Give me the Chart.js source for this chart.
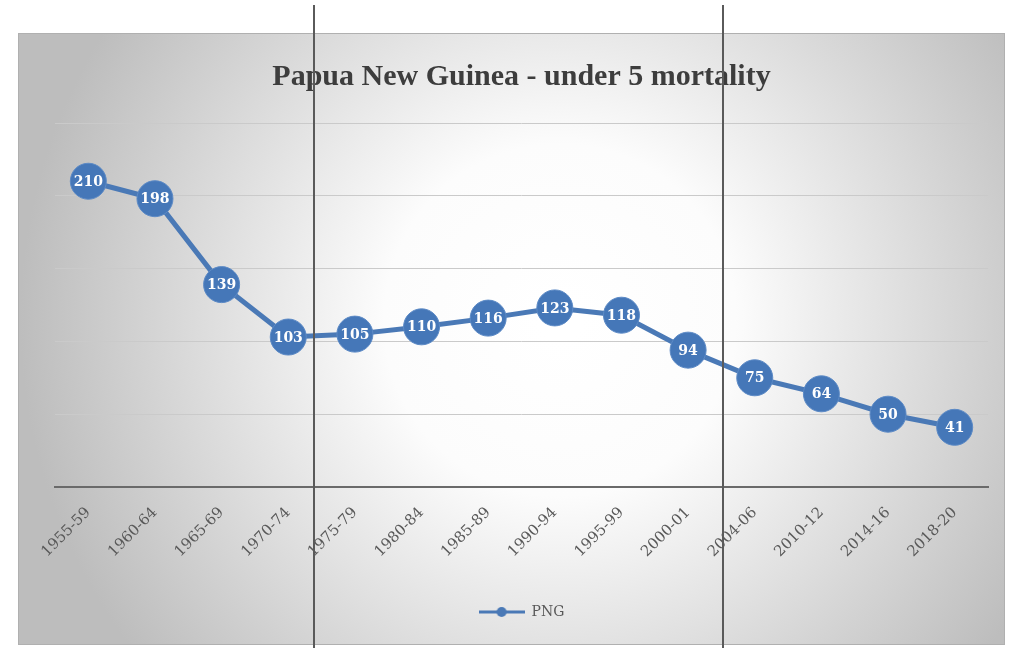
<!DOCTYPE html>
<html>
<head>
<meta charset="utf-8">
<script src="https://cdn.jsdelivr.net/npm/chart.js@4.4.1/dist/chart.umd.min.js"></script>
<style>
html, body { margin: 0; padding: 0; background: #fff; }
#wrap { position: relative; width: 1011px; height: 648px; overflow: hidden; }
#myChart { position: absolute; left: 0; top: 0; }
.vline { position: absolute; top: 5px; height: 643px; width: 2px; background: #5a5a5a; }
</style>
</head>
<body>
<div id="wrap">
  <canvas id="myChart" width="1011" height="648"></canvas>
  <div class="vline" style="left:313px"></div>
  <div class="vline" style="left:722px"></div>
</div>
<script>
var periods = ['1955-59', '1960-64', '1965-69', '1970-74', '1975-79', '1980-84', '1985-89',
               '1990-94', '1995-99', '2000-01', '2004-06', '2010-12', '2014-16', '2018-20'];
var mortality = [210, 198, 139, 103, 105, 110, 116, 123, 118, 94, 75, 64, 50, 41];
var seriesName = 'PNG';
var chartTitle = 'Papua New Guinea - under 5 mortality';
var yMin = 0, yMax = 250, yStep = 50;

var blue = '#4a79b6';

// grey radial fill behind the whole chart box
var chartBackground = {
    id: 'chartBackground',
    beforeDraw: function(chart) {
        var ctx = chart.ctx;
        ctx.save();
        var g = ctx.createRadialGradient(560, 320, 20, 560, 320, 540);
        g.addColorStop(0, '#ffffff');
        g.addColorStop(0.3, '#fcfcfc');
        g.addColorStop(1, '#bdbdbd');
        ctx.fillStyle = g;
        ctx.fillRect(18, 33, 987, 612);
        ctx.strokeStyle = '#b0b0b0';
        ctx.lineWidth = 1;
        ctx.strokeRect(18.5, 33.5, 986, 611);
        ctx.restore();
    }
};

// value written inside every marker
var pointLabels = {
    id: 'pointLabels',
    afterDatasetsDraw: function(chart) {
        var ctx = chart.ctx;
        var meta = chart.getDatasetMeta(0);
        var values = chart.data.datasets[0].data;
        ctx.save();
        ctx.font = 'bold 14px "DejaVu Serif"';
        ctx.fillStyle = '#ffffff';
        ctx.textAlign = 'center';
        ctx.textBaseline = 'middle';
        meta.data.forEach(function(pt, i) {
            ctx.fillText(values[i], pt.x, pt.y + 1);
        });
        ctx.restore();
    }
};

// legend marker: line with a dot
var legendMark = document.createElement('canvas');
legendMark.width = 46;
legendMark.height = 12;
var lc = legendMark.getContext('2d');
lc.strokeStyle = blue;
lc.lineWidth = 3;
lc.beginPath(); lc.moveTo(0, 6); lc.lineTo(46, 6); lc.stroke();
lc.fillStyle = blue;
lc.beginPath(); lc.arc(23, 6, 5, 0, Math.PI * 2); lc.fill();

var ctx = document.getElementById('myChart').getContext('2d');
var chart = new Chart(ctx, {
    type: 'line',
    data: {
        labels: periods,
        datasets: [{
            label: seriesName,
            data: mortality,
            borderColor: blue,
            backgroundColor: blue,
            borderWidth: 5,
            tension: 0,
            pointRadius: 18,
            pointHoverRadius: 18,
            pointBackgroundColor: '#4577b8',
            pointBorderColor: '#5c8ac6',
            pointBorderWidth: 1
        }]
    },
    options: {
        responsive: false,
        animation: false,
        devicePixelRatio: 1,
        layout: {
            autoPadding: false,
            padding: { left: 55, right: 23, top: 0, bottom: 19 }
        },
        scales: {
            x: {
                offset: true,
                grid: { display: false, drawTicks: false },
                border: { display: true, color: '#6a6a6a', width: 2 },
                ticks: {
                    autoSkip: false,
                    minRotation: 45,
                    maxRotation: 45,
                    padding: 17,
                    color: '#595959',
                    font: { family: 'DejaVu Serif', size: 15 }
                },
                afterFit: function(scale) { scale.height = 108; }
            },
            y: {
                min: yMin,
                max: yMax,
                ticks: { display: false, stepSize: yStep },
                grid: { color: '#cacaca', lineWidth: 1, drawTicks: false },
                border: { display: false }
            }
        },
        plugins: {
            title: {
                display: true,
                text: chartTitle,
                color: '#3d3d3d',
                font: { family: 'Liberation Serif', size: 30, weight: 'bold' },
                padding: { top: 59, bottom: 28 }
            },
            legend: {
                position: 'bottom',
                labels: {
                    usePointStyle: true,
                    pointStyle: legendMark,
                    pointStyleWidth: 46,
                    color: '#595959',
                    font: { family: 'DejaVu Serif', size: 14 },
                    padding: 10
                }
            },
            tooltip: { enabled: false }
        }
    },
    plugins: [chartBackground, pointLabels]
});
</script>
</body>
</html>
